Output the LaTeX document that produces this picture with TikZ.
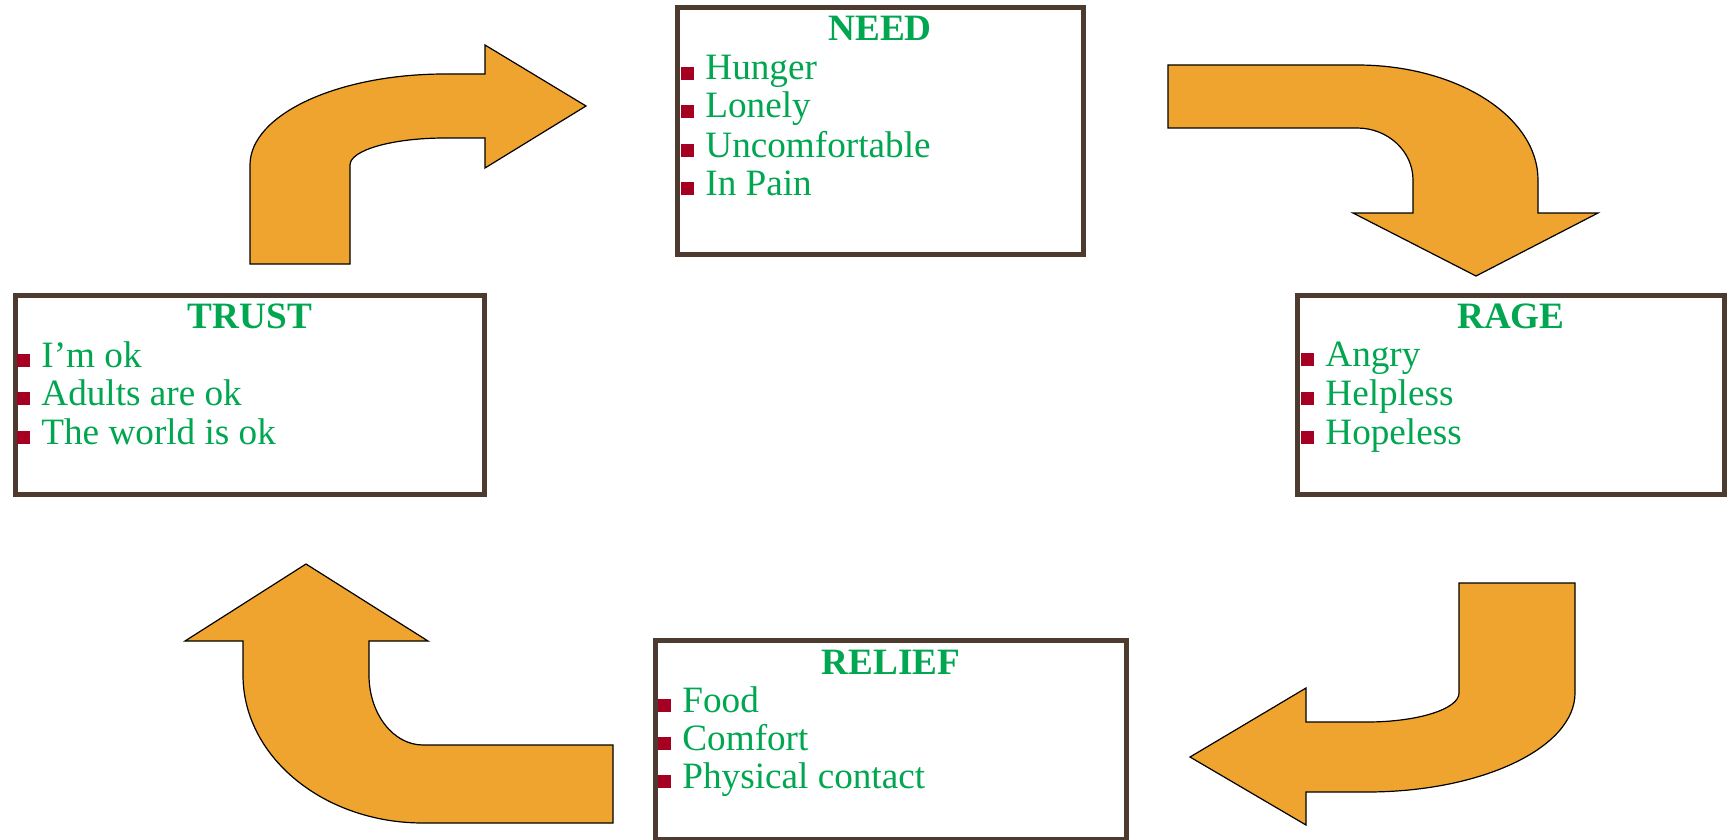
\documentclass[tikz,border=0pt]{standalone}
\usepackage{fontspec}
\setmainfont{Liberation Serif}
\usetikzlibrary{positioning}
\definecolor{boxbrown}{HTML}{4E3B30}
\definecolor{textgreen}{HTML}{00A650}
\definecolor{bulletred}{HTML}{A50021}
\definecolor{arroworange}{HTML}{EFA42F}
\newcommand{\sqbullet}{{\color{bulletred}\rule{6.5pt}{6.5pt}}\hspace{5.5pt}}

\begin{document}
\begin{tikzpicture}[x=0.5pt,y=-0.5pt]
\tikzset{
  stagebox/.style={rectangle,draw=boxbrown,line width=2.5pt,fill=white,inner sep=0pt},
  stagetitle/.style={anchor=base,inner sep=0pt,text=textgreen,font=\fontsize{18.6}{19}\selectfont\bfseries},
  stageitem/.style={anchor=base west,inner sep=0pt,text=textgreen,font=\fontsize{18.6}{19}\selectfont},
  bentarrow/.style={fill=arroworange,draw=black,line width=0.6pt,line join=miter}
}
\useasboundingbox (0,0) rectangle (1734,840);
\node[stagebox,minimum width=203pt,minimum height=123.5pt] (n_need) at (880.5,131) {};
\node[stagebox,minimum width=234.5pt,minimum height=99.5pt] (n_trust) at (250,395) {};
\node[stagebox,minimum width=213.5pt,minimum height=99.5pt] (n_rage) at (1511,395) {};
\node[stagebox,minimum width=235.5pt,minimum height=99.5pt] (n_relief) at (891,740) {};
\node[stagetitle] (n_need_t) at (880,41) {NEED};
\node[stageitem] (n_need_1) at (681,80) {\sqbullet Hunger};
\node[stageitem] (n_need_2) at (681,118) {\sqbullet Lonely};
\node[stageitem] (n_need_3) at (681,157) {\sqbullet Uncomfortable};
\node[stageitem] (n_need_4) at (681,195) {\sqbullet In Pain};
\node[stagetitle] (n_trust_t) at (250,328) {TRUST};
\node[stageitem] (n_trust_1) at (17,367) {\sqbullet I’m ok};
\node[stageitem] (n_trust_2) at (17,405) {\sqbullet Adults are ok};
\node[stageitem] (n_trust_3) at (17,444) {\sqbullet The world is ok};
\node[stagetitle] (n_rage_t) at (1511,328) {RAGE};
\node[stageitem] (n_rage_1) at (1301,366) {\sqbullet Angry};
\node[stageitem] (n_rage_2) at (1301,405) {\sqbullet Helpless};
\node[stageitem] (n_rage_3) at (1301,444) {\sqbullet Hopeless};
\node[stagetitle] (n_relief_t) at (891,674) {RELIEF};
\node[stageitem] (n_relief_1) at (658,712) {\sqbullet Food};
\node[stageitem] (n_relief_2) at (658,750) {\sqbullet Comfort};
\node[stageitem] (n_relief_3) at (658,788) {\sqbullet Physical contact};
% trust -> need
\draw[bentarrow] (250,264) -- (250,165) arc[start angle=180,end angle=270,x radius=195,y radius=91]
  -- (485,74) -- (485,45) -- (586,106) -- (485,168) -- (485,138) -- (445,138)
  arc[start angle=270,end angle=180,x radius=95,y radius=27] -- (350,264) -- cycle;
% need -> rage
\draw[bentarrow] (1168,65) -- (1357,65) arc[start angle=270,end angle=360,x radius=181,y radius=115]
  -- (1538,213) -- (1598,213) -- (1476,276) -- (1353,213) -- (1413,213) -- (1413,180)
  arc[start angle=0,end angle=-90,x radius=56,y radius=52] -- (1168,128) -- cycle;
% rage -> relief
\draw[bentarrow] (1459,583) -- (1575,583) -- (1575,693) arc[start angle=0,end angle=90,x radius=208,y radius=99]
  -- (1306,792) -- (1306,825) -- (1190,757) -- (1306,688) -- (1306,722) -- (1367,722)
  arc[start angle=90,end angle=0,x radius=92,y radius=29] -- cycle;
% relief -> trust
\draw[bentarrow] (613,745) -- (423,745) arc[start angle=90,end angle=180,x radius=54,y radius=70]
  -- (369,641) -- (428,641) -- (306,564) -- (185,641) -- (243,641) -- (243,675)
  arc[start angle=180,end angle=90,x radius=180,y radius=148] -- (613,823) -- cycle;
\end{tikzpicture}
\end{document}
